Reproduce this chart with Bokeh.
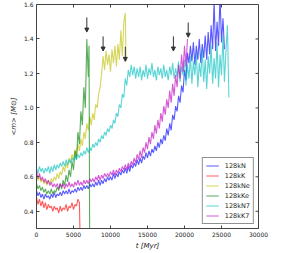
import math
from bokeh.plotting import figure
from bokeh.models import Range1d, FixedTicker, Arrow, NormalHead, ColumnDataSource, NumeralTickFormatter
from bokeh.embed import file_html
from bokeh.resources import INLINE

STEP = 200  # Myr between samples

blue_m = [0.52, 0.49, 0.51, 0.48, 0.50, 0.47, 0.50, 0.48, 0.49, 0.47,
          0.50, 0.48, 0.51, 0.48, 0.50, 0.49, 0.51, 0.49, 0.52, 0.50,
          0.52, 0.50, 0.53, 0.50, 0.52, 0.51, 0.53, 0.51, 0.54, 0.52,
          0.54, 0.52, 0.55, 0.53, 0.55, 0.53, 0.56, 0.54, 0.56, 0.54,
          0.57, 0.55, 0.58, 0.55, 0.58, 0.56, 0.59, 0.57, 0.60, 0.58,
          0.60, 0.58, 0.62, 0.59, 0.62, 0.60, 0.63, 0.61, 0.64, 0.62,
          0.65, 0.62, 0.66, 0.63, 0.67, 0.65, 0.68, 0.66, 0.70, 0.67,
          0.71, 0.68, 0.72, 0.70, 0.74, 0.71, 0.75, 0.72, 0.76, 0.74,
          0.78, 0.75, 0.80, 0.77, 0.82, 0.79, 0.84, 0.81, 0.88, 0.84,
          0.91, 0.87, 0.96, 0.93, 1.01, 0.98, 1.07, 1.03, 1.13, 1.09,
          1.22, 1.16, 1.32, 1.26, 1.36, 1.27, 1.38, 1.25, 1.36, 1.28,
          1.40, 1.26, 1.37, 1.29, 1.42, 1.28, 1.44, 1.31, 1.48, 1.34,
          1.62, 1.33, 1.50, 1.36, 1.65, 1.38, 1.52, 1.34]

red_m = [0.48, 0.44, 0.47, 0.43, 0.46, 0.42, 0.45, 0.41, 0.44, 0.42,
         0.43, 0.40, 0.43, 0.41, 0.42, 0.39, 0.43, 0.40, 0.42, 0.41,
         0.44, 0.40, 0.43, 0.42, 0.45, 0.41, 0.44, 0.43, 0.47, 0.45]
red_end_t = [6000]
red_end_m = [0.0]

yellow_m = [0.61, 0.58, 0.60, 0.57, 0.59, 0.56, 0.58, 0.55, 0.58, 0.56,
            0.59, 0.57, 0.60, 0.58, 0.62, 0.59, 0.63, 0.61, 0.66, 0.63,
            0.68, 0.65, 0.71, 0.68, 0.73, 0.70, 0.76, 0.72, 0.79, 0.75,
            0.82, 0.78, 0.86, 0.82, 0.91, 0.87, 0.95, 0.90, 0.97, 0.93,
            1.02, 1.00, 1.08, 1.12, 1.20, 1.30, 1.22, 1.33, 1.25, 1.31,
            1.21, 1.34, 1.26, 1.36, 1.24, 1.37, 1.28, 1.45, 1.30, 1.50,
            1.55]
yellow_end_t = [12100]
yellow_end_m = [1.27]

green_m = [0.56, 0.53, 0.55, 0.52, 0.54, 0.51, 0.53, 0.50, 0.52, 0.50,
           0.53, 0.50, 0.52, 0.51, 0.54, 0.52, 0.56, 0.53, 0.58, 0.55,
           0.61, 0.57, 0.64, 0.60, 0.69, 0.64, 0.75, 0.70, 0.86, 0.79,
           0.98, 0.90, 1.12, 1.00, 1.40, 1.18]
green_end_t = [7100, 7200]
green_end_m = [1.36, 0.0]

cyan_m = [0.65, 0.62, 0.66, 0.63, 0.65, 0.62, 0.65, 0.63, 0.66, 0.62,
          0.66, 0.63, 0.67, 0.64, 0.67, 0.65, 0.68, 0.66, 0.69, 0.66,
          0.70, 0.67, 0.70, 0.68, 0.71, 0.69, 0.72, 0.70, 0.73, 0.71,
          0.74, 0.72, 0.75, 0.73, 0.77, 0.74, 0.77, 0.75, 0.79, 0.77,
          0.80, 0.78, 0.82, 0.80, 0.84, 0.82, 0.86, 0.84, 0.88, 0.86,
          0.90, 0.88, 0.93, 0.91, 0.97, 0.95, 1.02, 1.00, 1.08, 1.06,
          1.17, 1.13, 1.22, 1.18, 1.25, 1.19, 1.24, 1.17, 1.23, 1.18,
          1.24, 1.16, 1.22, 1.18, 1.25, 1.17, 1.23, 1.19, 1.26, 1.18,
          1.22, 1.16, 1.24, 1.19, 1.23, 1.17, 1.25, 1.18, 1.22, 1.16,
          1.24, 1.19, 1.26, 1.17, 1.23, 1.18, 1.27, 1.15, 1.24, 1.19,
          1.28, 1.13, 1.25, 1.17, 1.30, 1.14, 1.27, 1.19, 1.32, 1.12,
          1.26, 1.18, 1.34, 1.15, 1.28, 1.11, 1.30, 1.20, 1.36, 1.14,
          1.29, 1.17, 1.38, 1.12, 1.31, 1.19, 1.42, 1.15, 1.33, 1.48,
          1.06]

magenta_m = [0.63, 0.59, 0.62, 0.58, 0.60, 0.57, 0.59, 0.56, 0.58, 0.55,
             0.57, 0.54, 0.56, 0.54, 0.56, 0.53, 0.56, 0.54, 0.56, 0.53,
             0.56, 0.54, 0.57, 0.54, 0.56, 0.54, 0.57, 0.55, 0.58, 0.55,
             0.57, 0.55, 0.58, 0.56, 0.58, 0.56, 0.59, 0.57, 0.59, 0.57,
             0.60, 0.58, 0.61, 0.58, 0.61, 0.59, 0.62, 0.60, 0.62, 0.60,
             0.63, 0.61, 0.64, 0.61, 0.64, 0.62, 0.65, 0.63, 0.66, 0.64,
             0.67, 0.64, 0.68, 0.65, 0.69, 0.67, 0.71, 0.68, 0.73, 0.70,
             0.75, 0.71, 0.77, 0.74, 0.80, 0.76, 0.83, 0.79, 0.86, 0.82,
             0.90, 0.85, 0.93, 0.88, 0.97, 0.92, 1.01, 0.96, 1.05, 1.00,
             1.10, 1.03, 1.14, 1.07, 1.19, 1.12, 1.25, 1.17, 1.31, 1.21,
             1.36, 1.24, 1.40]

labels = ["128kN", "128kK", "128kNe", "128kKe", "128kN7", "128kK7"]
colors = ["#0000ff", "#ff0000", "#bfbf00", "#008000", "#00bfbf", "#bf00bf"]

arrow_t = [6800, 9000, 12000, 18500, 20500]
arrow_m = [1.44, 1.33, 1.27, 1.33, 1.41]
ARROW_LEN = 0.085

x_ticks = [0, 5000, 10000, 15000, 20000, 25000, 30000]
y_ticks = [0.4, 0.6, 0.8, 1.0, 1.2, 1.4, 1.6]
X_MAX = 30000
Y_MIN, Y_MAX = 0.3, 1.6


def grid(vals):
    return [i * STEP for i in range(len(vals))]


series = [
    (grid(blue_m), blue_m),
    (grid(red_m) + red_end_t, red_m + red_end_m),
    (grid(yellow_m) + yellow_end_t, yellow_m + yellow_end_m),
    (grid(green_m) + green_end_t, green_m + green_end_m),
    (grid(cyan_m), cyan_m),
    (grid(magenta_m), magenta_m),
]

p = figure(width=280, height=252, output_backend="svg", toolbar_location=None,
           x_range=Range1d(0, X_MAX), y_range=Range1d(Y_MIN, Y_MAX),
           min_border_left=36, min_border_right=22, min_border_top=4, min_border_bottom=19)
p.xgrid.visible = False
p.ygrid.visible = False
p.outline_line_color = "#444444"
p.background_fill_color = "white"
p.border_fill_color = "white"

for (t, m), lab, col in zip(series, labels, colors):
    p.line(t, m, line_color=col, line_width=1.1, line_alpha=0.65, legend_label=lab)

src = ColumnDataSource(dict(x=arrow_t, y0=[v + ARROW_LEN for v in arrow_m], y1=arrow_m))
p.add_layout(Arrow(source=src, x_start="x", y_start="y0", x_end="x", y_end="y1",
                   line_color="#333333", line_width=1,
                   end=NormalHead(size=4, fill_color="#333333", line_color="#333333")))

# inward ticks on the top and right edges
p.ray(x=x_ticks, y=[Y_MAX] * len(x_ticks), length=3, length_units="screen",
      angle=-math.pi / 2, line_color="#444444", line_width=1)
p.ray(x=[X_MAX] * len(y_ticks), y=y_ticks, length=3, length_units="screen",
      angle=math.pi, line_color="#444444", line_width=1)

FONT = "DejaVu Sans"
for ax in (p.xaxis[0], p.yaxis[0]):
    ax.major_tick_in = 3
    ax.major_tick_out = 0
    ax.minor_tick_in = 0
    ax.minor_tick_out = 0
    ax.axis_line_color = "#444444"
    ax.major_tick_line_color = "#444444"
    ax.major_label_text_font = FONT
    ax.major_label_text_font_size = "6px"
    ax.major_label_text_color = "#222222"
    ax.axis_label_text_font = FONT
    ax.axis_label_text_font_size = "7px"
    ax.axis_label_text_font_style = "italic"
    ax.axis_label_text_color = "#222222"

p.xaxis[0].ticker = FixedTicker(ticks=x_ticks)
p.yaxis[0].ticker = FixedTicker(ticks=y_ticks)
p.yaxis[0].formatter = NumeralTickFormatter(format="0.0")
p.xaxis[0].axis_label = "t [Myr]"
p.yaxis[0].axis_label = "<m> [M\u2299]"
p.xaxis[0].major_label_standoff = 3
p.yaxis[0].major_label_standoff = 3
p.xaxis[0].axis_label_standoff = 2
p.yaxis[0].axis_label_standoff = 3

lg = p.legend[0]
lg.location = "bottom_right"
lg.border_line_color = "#222222"
lg.border_line_width = 1
lg.background_fill_alpha = 1
lg.label_text_font = FONT
lg.label_text_font_size = "6.5px"
lg.label_text_color = "#222222"
lg.glyph_width = 13
lg.glyph_height = 9
lg.label_height = 9
lg.label_standoff = 6
lg.spacing = 1
lg.padding = 3
lg.margin = 4

open("out.html", "w").write(file_html(p, INLINE))
